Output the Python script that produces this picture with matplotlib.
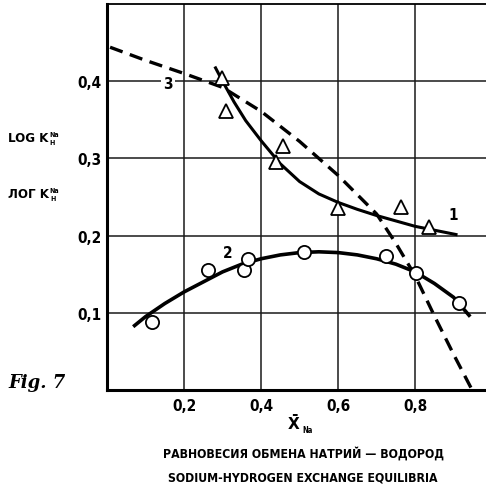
import matplotlib.pyplot as plt
from matplotlib import font_manager

# curve 1 (solid, triangles)
curve1_x = [0.28, 0.30, 0.33, 0.36, 0.40, 0.45, 0.50, 0.55, 0.60, 0.65, 0.70, 0.75, 0.80, 0.85, 0.91]
curve1_y = [0.419, 0.400, 0.373, 0.349, 0.323, 0.293, 0.270, 0.254, 0.243, 0.234, 0.226, 0.219, 0.212, 0.207, 0.201]
tri_x = [0.298, 0.309, 0.439, 0.457, 0.600, 0.764, 0.836]
tri_y = [0.404, 0.361, 0.295, 0.316, 0.236, 0.237, 0.211]

# curve 2 (solid, circles)
curve2_x = [0.068, 0.10, 0.15, 0.20, 0.25, 0.30, 0.35, 0.40, 0.45, 0.50, 0.55, 0.60, 0.65, 0.70, 0.75, 0.80, 0.85, 0.90, 0.943]
curve2_y = [0.082, 0.095, 0.112, 0.127, 0.140, 0.153, 0.163, 0.170, 0.175, 0.178, 0.179, 0.178, 0.175, 0.170, 0.163, 0.153, 0.138, 0.120, 0.095]
circ_x = [0.117, 0.262, 0.356, 0.366, 0.512, 0.725, 0.803, 0.914]
circ_y = [0.088, 0.156, 0.156, 0.170, 0.179, 0.174, 0.151, 0.113]

# curve 3 (dashed)
curve3_x = [0.008, 0.10, 0.20, 0.30, 0.40, 0.50, 0.60, 0.70, 0.75, 0.80, 0.85, 0.90, 0.948]
curve3_y = [0.444, 0.427, 0.410, 0.392, 0.361, 0.322, 0.278, 0.228, 0.190, 0.148, 0.096, 0.046, 0.0]

xticks = [0.2, 0.4, 0.6, 0.8]
xtick_labels = ["0,2", "0,4", "0,6", "0,8"]
yticks = [0.1, 0.2, 0.3, 0.4]
ytick_labels = ["0,1", "0,2", "0,3", "0,4"]

W, H = 486, 489

# look for a narrow bold sans; otherwise fall back to DejaVu Sans at a smaller size
narrow, stretch, shrink = ["DejaVu Sans"], "normal", 0.82
for f in font_manager.fontManager.ttflist:
    if ("Narrow" in f.name or "Condensed" in f.name or f.stretch in ("condensed", "semi-condensed")) \
            and f.weight in (600, 700, "bold"):
        narrow, stretch, shrink = [f.name, "DejaVu Sans"], f.stretch, 1.0
        break

def px(x, y):
    return x / W, 1 - y / H

def nt(fs):
    return dict(fontsize=fs * shrink, fontweight="bold", family=narrow, fontstretch=stretch)

fig = plt.figure(figsize=(W / 100, H / 100), dpi=100)
ax = fig.add_axes([107 / W, 1 - 391 / H, 379 / W, 386 / H])
ax.set_xlim(0, 0.984)
ax.set_ylim(0, 0.5)

ax.plot(curve3_x, curve3_y, color="black", lw=2.4, dashes=(4, 2.3), zorder=3)
ax.plot(curve1_x, curve1_y, color="black", lw=2.2, zorder=3, solid_capstyle="butt")
ax.plot(curve2_x, curve2_y, color="black", lw=2.6, zorder=3, solid_capstyle="butt")
ax.plot(tri_x, tri_y, ls="none", marker="^", ms=10, mfc="white", mec="black", mew=1.3, zorder=4)
ax.plot(circ_x, circ_y, ls="none", marker="o", ms=9.5, mfc="white", mec="black", mew=1.3, zorder=4)

ax.text(0.158, 0.397, "3", ha="center", va="center", zorder=5,
        bbox=dict(facecolor="white", edgecolor="none", pad=1.5), **nt(11))
ax.text(0.90, 0.227, "1", ha="center", va="center", **nt(11))
ax.text(0.314, 0.178, "2", ha="center", va="center", **nt(11))

ax.set_xticks(xticks)
ax.set_xticklabels(xtick_labels)
ax.set_yticks(yticks)
ax.set_yticklabels(ytick_labels)
ax.tick_params(length=0)
ax.tick_params(axis="y", pad=4)
ax.tick_params(axis="x", pad=6)
for lab in ax.get_xticklabels() + ax.get_yticklabels():
    lab.set_family(narrow)
    lab.set_fontweight("bold")
    lab.set_fontstretch(stretch)
    lab.set_fontsize(11 * shrink)
ax.grid(True, color="#1a1a1a", lw=1.1)
ax.set_axisbelow(True)
ax.spines["right"].set_visible(False)
ax.spines["left"].set_linewidth(2.2)
ax.spines["bottom"].set_linewidth(2.2)
ax.spines["top"].set_linewidth(1.3)

# axis labels
for y, word in [(139, "LOG K"), (195, "ЛОГ K")]:
    t = fig.text(*px(8, y), word, ha="left", va="center", **nt(9.5))
    ax.annotate("Na", xy=(1, 0.55), xycoords=t, xytext=(0.5, 0), textcoords="offset points",
                ha="left", va="bottom", annotation_clip=False, **nt(5))
    ax.annotate("H", xy=(1, 0.45), xycoords=t, xytext=(1, 0), textcoords="offset points",
                ha="left", va="top", annotation_clip=False, **nt(5))

xl = fig.text(*px(294, 423), r"$\mathbf{\bar{X}}$", ha="center", va="center", fontsize=11)
ax.annotate("Na", xy=(1, 0.1), xycoords=xl, xytext=(1, 0), textcoords="offset points",
            ha="left", va="center", annotation_clip=False, **nt(5.5))

fig.text(*px(8, 383), "Fig. 7", fontsize=13, fontstyle="italic", fontweight="bold",
         family="DejaVu Serif", ha="left", va="center")

fig.text(*px(303, 454), "РАВНОВЕСИЯ ОБМЕНА НАТРИЙ — ВОДОРОД", ha="center", va="center", **nt(8.8))
fig.text(*px(303, 478), "SODIUM-HYDROGEN EXCHANGE EQUILIBRIA", ha="center", va="center", **nt(8.8))

fig.savefig("out.png", dpi=100)
